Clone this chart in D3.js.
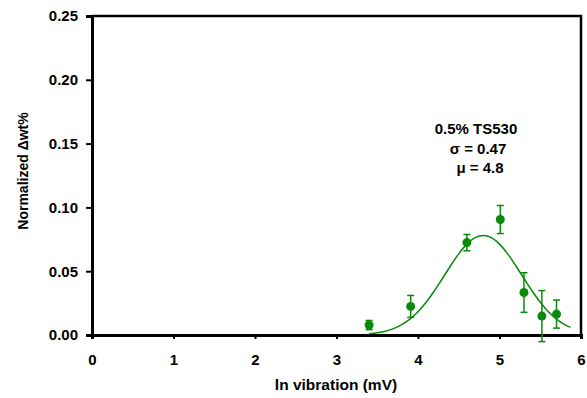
<!DOCTYPE html>
<html>
<head>
<meta charset="utf-8">
<script src="https://cdn.jsdelivr.net/npm/d3@7"></script>
<style>
  body { margin: 0; background: #fff; }
  text { font-family: "Liberation Sans", Arial, sans-serif; font-weight: bold; }
</style>
</head>
<body>
<div id="chart"></div>
<script>
// measured points (ln vibration, normalized dwt%, error)
const xVals = [3.40, 3.91, 4.60, 5.01, 5.30, 5.52, 5.70]
const yVals = [0.0078, 0.0224, 0.0724, 0.0905, 0.0333, 0.0148, 0.0164]
const errVals = [0.0036, 0.0086, 0.0064, 0.011, 0.0155, 0.020, 0.011]

// fitted curve
const fitX = [3.4, 3.5, 3.6, 3.7, 3.8, 3.9, 4.0, 4.1, 4.2, 4.3, 4.4, 4.5, 4.6, 4.7, 4.8,
  4.9, 5.0, 5.1, 5.2, 5.3, 5.4, 5.5, 5.6, 5.7, 5.8, 5.87]
const fitY = [0.0009, 0.0017, 0.0030, 0.0050, 0.0081, 0.0125, 0.0183, 0.0257, 0.0345, 0.0443,
  0.0543, 0.0636, 0.0712, 0.0763, 0.0780, 0.0763, 0.0712, 0.0636, 0.0543, 0.0443, 0.0345,
  0.0257, 0.0183, 0.0125, 0.0081, 0.0060]

const xTicks = [0, 1, 2, 3, 4, 5, 6]
const yTicks = [0, 0.05, 0.10, 0.15, 0.20, 0.25]
const notes = ["0.5% TS530", "σ = 0.47", "μ = 4.8"]

const W = 587, H = 398
const plotL = 92, plotR = 581, plotT = 16, plotB = 335
const green = "#0a8a0a"

const svg = d3.select("#chart").append("svg")
  .attr("width", W).attr("height", H)

const x = d3.scaleLinear().domain([0, 6]).range([plotL, plotR])
const y = d3.scaleLinear().domain([0, 0.25]).range([plotB, plotT])

// frame top + right
svg.append("path")
  .attr("d", `M${plotL},${plotT}H${plotR}V${plotB}`)
  .attr("fill", "none").attr("stroke", "#000").attr("stroke-width", 2.5)

const xAxis = svg.append("g")
  .attr("transform", `translate(0,${plotB})`)
  .call(d3.axisBottom(x).tickValues(xTicks).tickFormat(d3.format("d")).tickSizeOuter(0).tickSize(4).tickPadding(15))
xAxis.select(".domain").attr("stroke-width", 3)
xAxis.selectAll(".tick line").attr("stroke-width", 2)
xAxis.selectAll("text").attr("font-size", 15).attr("fill", "#000")

const yAxis = svg.append("g")
  .attr("transform", `translate(${plotL},0)`)
  .call(d3.axisLeft(y).tickValues(yTicks).tickFormat(d3.format(".2f")).tickSizeOuter(0).tickSize(6).tickPadding(8))
yAxis.select(".domain").attr("stroke-width", 3)
yAxis.selectAll(".tick line").attr("stroke-width", 2)
yAxis.selectAll("text").attr("font-size", 15).attr("fill", "#000")

// axis titles
svg.append("text")
  .attr("x", 336).attr("y", 390)
  .attr("text-anchor", "middle").attr("font-size", 15.5)
  .text("ln vibration (mV)")

svg.append("text")
  .attr("transform", "translate(28,171) rotate(-90)")
  .attr("text-anchor", "middle").attr("font-size", 14)
  .text("Normalized Δwt%")

// fitted curve
const line = d3.line().x(d => x(d[0])).y(d => y(d[1])).curve(d3.curveMonotoneX)
svg.append("path")
  .datum(d3.zip(fitX, fitY))
  .attr("d", line)
  .attr("fill", "none").attr("stroke", green).attr("stroke-width", 1.5)

// error bars and points
const pts = xVals.map((v, i) => ({ x: v, y: yVals[i], e: errVals[i] }))
const eb = svg.append("g").attr("stroke", green).attr("stroke-width", 1.5)
pts.forEach(d => {
  eb.append("line").attr("x1", x(d.x)).attr("x2", x(d.x))
    .attr("y1", y(d.y - d.e)).attr("y2", y(d.y + d.e))
  eb.append("line").attr("x1", x(d.x) - 3.5).attr("x2", x(d.x) + 3.5)
    .attr("y1", y(d.y - d.e)).attr("y2", y(d.y - d.e))
  eb.append("line").attr("x1", x(d.x) - 3.5).attr("x2", x(d.x) + 3.5)
    .attr("y1", y(d.y + d.e)).attr("y2", y(d.y + d.e))
})
svg.selectAll(".pt").data(pts).enter().append("circle")
  .attr("class", "pt")
  .attr("cx", d => x(d.x)).attr("cy", d => y(d.y)).attr("r", 4.5)
  .attr("fill", green)

// annotation
svg.selectAll(".note").data(notes).enter().append("text")
  .attr("class", "note")
  .attr("x", (d, i) => [476, 478, 480][i])
  .attr("y", (d, i) => [134, 153.5, 173][i])
  .attr("text-anchor", "middle").attr("font-size", 15)
  .text(d => d)
</script>
</body>
</html>
